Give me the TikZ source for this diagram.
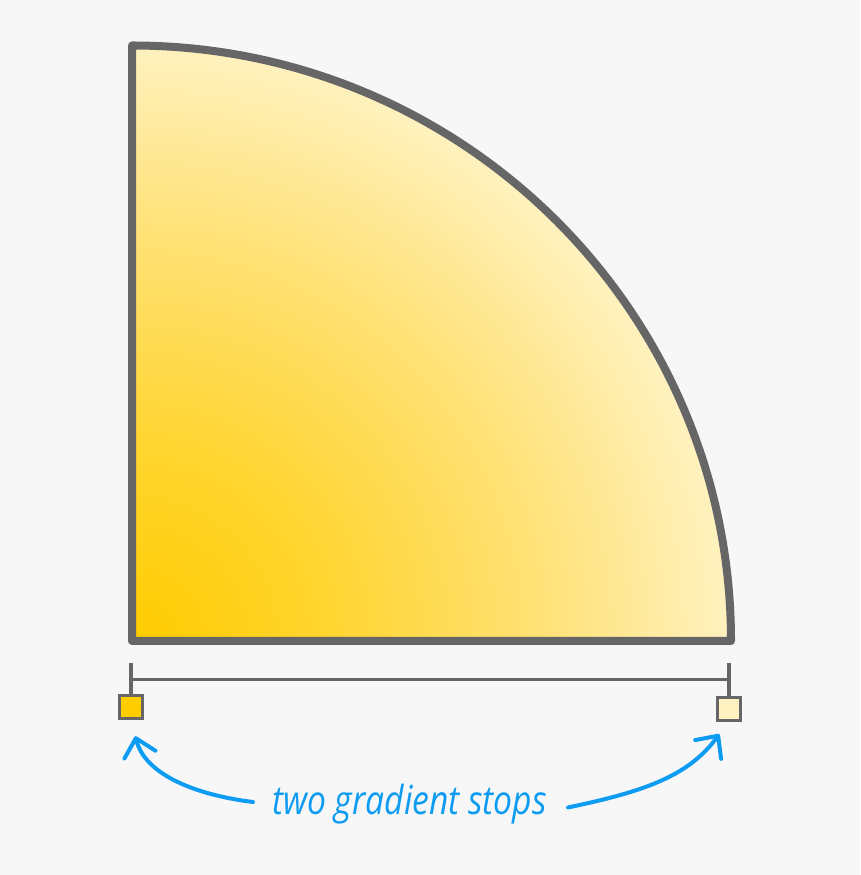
\documentclass[tikz,border=0pt]{standalone}
\usepackage{fontspec}
\newfontfamily\handfont{Open Sans}
\usetikzlibrary{arrows.meta}
\definecolor{bg}{HTML}{F7F7F7}
\definecolor{edge}{HTML}{666666}
\definecolor{goldA}{HTML}{FFCC00}
\definecolor{midA}{HTML}{FFD530}
\definecolor{midB}{HTML}{FFE27A}
\definecolor{paleA}{HTML}{FFF2C0}
\definecolor{pen}{HTML}{0D9CF2}
\pgfdeclareradialshading{quarterfill}{\pgfpoint{0pt}{0pt}}{color(0pt)=(goldA); color(198pt)=(midA); color(420pt)=(midB); color(600pt)=(paleA)}
\tikzset{
  outline/.style={draw=edge, line width=8pt, line join=round},
  rule/.style={draw=edge, line width=3.5pt},
  stopbox/.style={draw=edge, line width=3pt, minimum size=23.5pt, inner sep=0pt, outer sep=0pt},
  penarrow/.style={draw=pen, line width=4pt, line cap=round, -{Straight Barb[length=17pt,width=32pt,round]}},
  handtext/.style={text=pen, font=\handfont\itshape\fontsize{40}{44}\selectfont, inner sep=0pt},
  shadeholder/.style={inner sep=0pt, outer sep=0pt}
}
\begin{document}
\begin{tikzpicture}[x=1pt,y=1pt]
\useasboundingbox[fill=bg] (0,0) rectangle (860,875);
\begin{scope}
  \clip (132,234) -- (132,829.5) arc[start angle=90,end angle=0,x radius=599,y radius=595.5] -- cycle;
  \node[shadeholder] (fillshade) at (132,234) {\pgfuseshading{quarterfill}};
\end{scope}
\draw[outline] (132,234) -- (132,829.5) arc[start angle=90,end angle=0,x radius=599,y radius=595.5] -- cycle;
\node[stopbox, fill=goldA] (stopA) at (131,168) {};
\node[stopbox, fill=paleA] (stopB) at (729,166) {};
\coordinate (tickA) at (131,212);
\coordinate (tickB) at (729,212);
\coordinate (barA) at (131,195.5);
\coordinate (barB) at (729,195.5);
\draw[rule] (tickA) -- (stopA.north);
\draw[rule] (tickB) -- (stopB.north);
\draw[rule] (barA) -- (barB);
\node[handtext, anchor=base] (txt) at (409.5,60) {\scalebox{0.84}[1]{two gradient stops}};
\coordinate (arrA) at (253,73);
\coordinate (arrB) at (568,67.5);
\draw[penarrow, shorten >=18pt] (arrA) to[out=173,in=-76] (stopA.south);
\draw[penarrow, shorten >=16.5pt] (arrB) to[out=12,in=-126] (stopB.south);
\end{tikzpicture}
\end{document}
